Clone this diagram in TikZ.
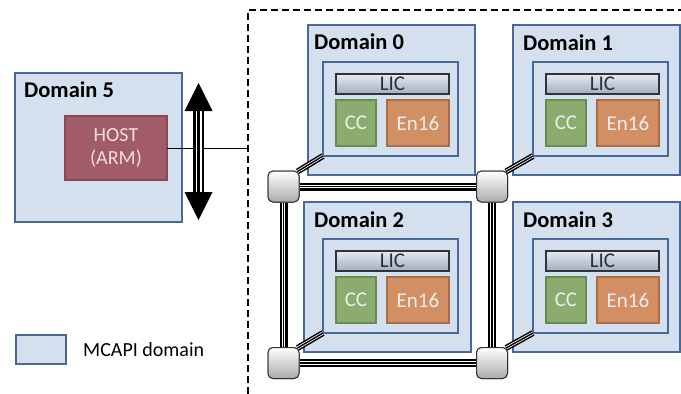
\documentclass[tikz,border=0pt]{standalone}
\usepackage{fontspec}
\setmainfont{Carlito}
\usetikzlibrary{calc}

\definecolor{dombg}{HTML}{D4E0EE}
\definecolor{domline}{HTML}{46699A}
\definecolor{hostbg}{HTML}{A25C68}
\definecolor{hostline}{HTML}{8A4754}
\definecolor{hosttext}{HTML}{F3DDE1}
\definecolor{ccbg}{HTML}{8BAB6F}
\definecolor{ccline}{HTML}{6A8A4F}
\definecolor{enbg}{HTML}{D28F63}
\definecolor{enline}{HTML}{A96D45}
\definecolor{lighttext}{HTML}{EEEEEE}
\definecolor{lictop}{HTML}{E6EAF0}
\definecolor{licbot}{HTML}{A2ADBD}
\definecolor{licline}{HTML}{2C3440}
\definecolor{lictext}{HTML}{2A303A}

\tikzset{
  box/.style={rectangle, inner sep=0pt, outer sep=0pt, anchor=north west},
  dombox/.style={box, fill=dombg, draw=domline, line width=1.8pt},
  licbox/.style={box, top color=lictop, bottom color=licbot, draw=licline, line width=1.3pt,
    text=lictext, font=\fontsize{21}{23}\selectfont},
  ccbox/.style={box, fill=ccbg, draw=ccline, line width=1.8pt, text=lighttext,
    font=\fontsize{21}{23}\selectfont},
  enbox/.style={box, fill=enbg, draw=enline, line width=1.8pt, text=lighttext,
    font=\fontsize{21}{23}\selectfont},
  domlabel/.style={anchor=base west, inner sep=0pt, font=\fontsize{22.5}{24}\selectfont\bfseries},
  router/.style={rectangle, rounded corners=5pt, minimum width=31pt, minimum height=31pt,
    inner sep=0pt, top color=white, bottom color=black!33, draw=black!80, line width=1pt},
  bus/.style={draw=black, line width=8pt,
    postaction={draw=white, line width=3.8pt},
    postaction={draw=black, line width=1.7pt}},
  thinbus/.style={draw=black, line width=6pt,
    postaction={draw=white, line width=3pt},
    postaction={draw=black, line width=1.4pt}},
  shaft/.style={draw=black, line width=10.5pt,
    postaction={draw=white, line width=6pt},
    postaction={draw=black, line width=2.4pt}},
}

% one MCAPI domain: #1 name prefix, (#2,#3) top-left of the outer box,
% #4 label, (#5,#6) label base point, (#7,#8) top-left of the inner box
\newcommand{\mcdomain}[8]{%
  \node[dombox, minimum width=167pt, minimum height=150pt] (#1) at (#2,#3) {};
  \node[domlabel] (#1lab) at (#5,#6) {#4};
  \node[dombox, minimum width=135pt, minimum height=94pt] (#1in) at (#7,#8) {};
  \node[licbox, minimum width=113pt, minimum height=20pt] (#1lic) at ($(#7,#8)+(13,12)$) {LIC};
  \node[ccbox, minimum width=40pt, minimum height=46pt] (#1cc) at ($(#7,#8)+(13,38)$) {CC};
  \node[enbox, minimum width=62pt, minimum height=46pt] (#1en) at ($(#7,#8)+(64,38)$) {En16};
}

\begin{document}
\begin{tikzpicture}[x=1pt, y=-1pt]
\useasboundingbox (0,0) rectangle (681,394);

% boundary of the MCAPI region
\coordinate (regbot) at (248,394);
\coordinate (regcorner) at (248,10);
\coordinate (regright) at (681,10);
\draw[line width=1.4pt, dash pattern=on 7pt off 4pt] (regbot) -- (regcorner) -- (regright);

% host domain
\node[dombox, minimum width=167pt, minimum height=149pt] (d5) at (15,73) {};
\node[domlabel] (d5lab) at (24,97) {Domain 5};
\node[box, fill=hostbg, draw=hostline, line width=1.5pt, minimum width=102pt, minimum height=64pt,
  text=hosttext, align=center, font=\fontsize{20}{23}\selectfont] (host) at (65,116) {HOST\\(ARM)};

% host link into the region
\coordinate (hostend) at (248,148);
\draw[black, line width=1pt] (host.east) -- (hostend);

% bidirectional arrow
\coordinate (atop) at (198.5,83);
\coordinate (abot) at (198.5,220);
\coordinate (ashafttop) at (198.5,110);
\coordinate (ashaftbot) at (198.5,193);
\path[shaft] (ashafttop) -- (ashaftbot);
\fill[black] (atop) -- ($(ashafttop)+(-14,1)$) -- ($(ashafttop)+(14,1)$) -- cycle;
\fill[black] (abot) -- ($(ashaftbot)+(-14,-1)$) -- ($(ashaftbot)+(14,-1)$) -- cycle;

% the four tile domains
\mcdomain{d0}{308}{25}{Domain 0}{314}{49}{323}{62}
\mcdomain{d1}{513}{25}{Domain 1}{523}{50}{533}{62}
\mcdomain{d2}{304}{202}{Domain 2}{314}{227}{323}{239}
\mcdomain{d3}{513}{202}{Domain 3}{523}{227}{533}{239}

% routers
\node[router] (r0) at (283.5,186.5) {};
\node[router] (r1) at (492,186.5) {};
\node[router] (r2) at (283.5,363) {};
\node[router] (r3) at (492,363) {};

% mesh links
\path[bus] (r0.east) -- (r1.west);
\path[bus] (r2.east) -- (r3.west);
\path[bus] (r0.south) -- (r2.north);
\path[bus] (r1.south) -- (r3.north);

% router-to-domain links
\path[thinbus] ($(r0.north east)+(-2,1)$) -- (d0in.south west);
\path[thinbus] ($(r1.north east)+(-2,1)$) -- (d1in.south west);
\path[thinbus] ($(r2.north east)+(-2,1)$) -- (d2in.south west);
\path[thinbus] ($(r3.north east)+(-2,1)$) -- (d3in.south west);

% redraw routers above the links
\node[router] at (r0) {};
\node[router] at (r1) {};
\node[router] at (r2) {};
\node[router] at (r3) {};

% legend
\node[dombox, minimum width=50pt, minimum height=29pt] (leg) at (16,335) {};
\node[anchor=west, inner sep=0pt, font=\fontsize{20}{22}\selectfont] (legtext) at (83,350) {MCAPI domain};
\end{tikzpicture}
\end{document}
